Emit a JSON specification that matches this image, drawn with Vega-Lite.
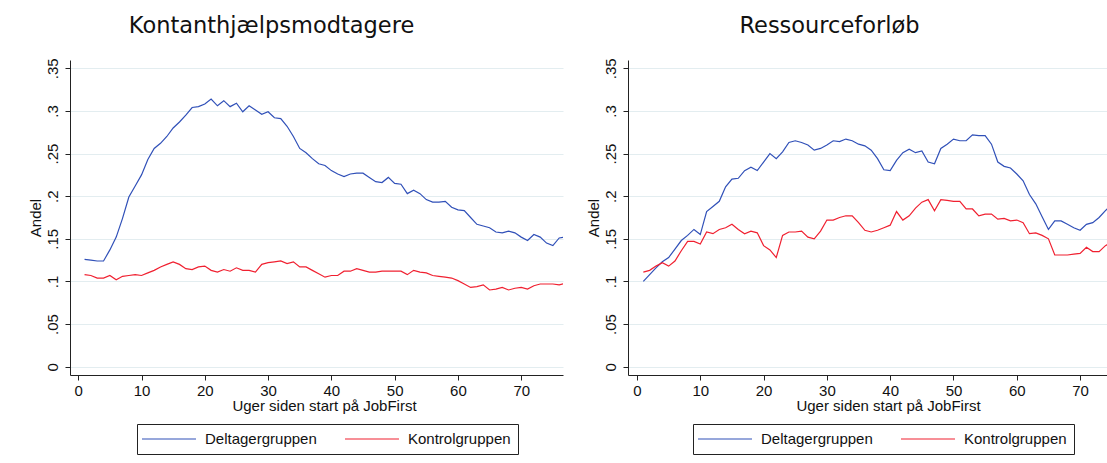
{
  "$schema": "https://vega.github.io/schema/vega-lite/v6.json",
  "background": "white",
  "padding": {"left": 28, "top": 15, "right": 0, "bottom": 11},
  "spacing": 23,
  "resolve": {"scale": {"color": "independent"}, "legend": {"color": "independent"}},
  "config": {
    "view": {"stroke": null},
    "font": "Liberation Sans",
    "axis": {
      "labelFont": "Liberation Sans", "labelFontSize": 15, "labelColor": "#111",
      "titleFont": "Liberation Sans", "titleFontSize": 15, "titleFontWeight": "normal", "titleColor": "#111",
      "domainColor": "#222", "tickColor": "#222", "tickSize": 5,
      "gridColor": "#e3edf0", "gridWidth": 1
    },
    "title": {"font": "DejaVu Sans", "fontSize": 22.5, "fontWeight": "normal", "color": "#111", "anchor": "middle", "baseline": "bottom", "offset": 20},
    "legend": {
      "labelFont": "Liberation Sans", "labelFontSize": 15, "labelColor": "#111",
      "symbolType": "M-3.857,0H3.857", "symbolSize": 196, "symbolStrokeWidth": 1.2,
      "symbolOffset": 17, "labelOffset": 28, "columnPadding": 25, "padding": 7,
      "strokeColor": "#222", "fillColor": "white"
    }
  },
  "datasets": {
    "kont": [
      {"week":1,"Deltagergruppen":0.126,"Kontrolgruppen":0.108},
      {"week":2,"Deltagergruppen":0.125,"Kontrolgruppen":0.107},
      {"week":3,"Deltagergruppen":0.124,"Kontrolgruppen":0.104},
      {"week":4,"Deltagergruppen":0.124,"Kontrolgruppen":0.104},
      {"week":5,"Deltagergruppen":0.137,"Kontrolgruppen":0.107},
      {"week":6,"Deltagergruppen":0.152,"Kontrolgruppen":0.102},
      {"week":7,"Deltagergruppen":0.174,"Kontrolgruppen":0.106},
      {"week":8,"Deltagergruppen":0.199,"Kontrolgruppen":0.107},
      {"week":9,"Deltagergruppen":0.212,"Kontrolgruppen":0.108},
      {"week":10,"Deltagergruppen":0.225,"Kontrolgruppen":0.107},
      {"week":11,"Deltagergruppen":0.243,"Kontrolgruppen":0.110},
      {"week":12,"Deltagergruppen":0.256,"Kontrolgruppen":0.113},
      {"week":13,"Deltagergruppen":0.262,"Kontrolgruppen":0.117},
      {"week":14,"Deltagergruppen":0.270,"Kontrolgruppen":0.120},
      {"week":15,"Deltagergruppen":0.280,"Kontrolgruppen":0.123},
      {"week":16,"Deltagergruppen":0.287,"Kontrolgruppen":0.120},
      {"week":17,"Deltagergruppen":0.295,"Kontrolgruppen":0.115},
      {"week":18,"Deltagergruppen":0.304,"Kontrolgruppen":0.114},
      {"week":19,"Deltagergruppen":0.305,"Kontrolgruppen":0.117},
      {"week":20,"Deltagergruppen":0.308,"Kontrolgruppen":0.118},
      {"week":21,"Deltagergruppen":0.314,"Kontrolgruppen":0.113},
      {"week":22,"Deltagergruppen":0.306,"Kontrolgruppen":0.111},
      {"week":23,"Deltagergruppen":0.312,"Kontrolgruppen":0.114},
      {"week":24,"Deltagergruppen":0.305,"Kontrolgruppen":0.112},
      {"week":25,"Deltagergruppen":0.309,"Kontrolgruppen":0.116},
      {"week":26,"Deltagergruppen":0.299,"Kontrolgruppen":0.113},
      {"week":27,"Deltagergruppen":0.306,"Kontrolgruppen":0.113},
      {"week":28,"Deltagergruppen":0.301,"Kontrolgruppen":0.111},
      {"week":29,"Deltagergruppen":0.296,"Kontrolgruppen":0.120},
      {"week":30,"Deltagergruppen":0.299,"Kontrolgruppen":0.122},
      {"week":31,"Deltagergruppen":0.292,"Kontrolgruppen":0.123},
      {"week":32,"Deltagergruppen":0.291,"Kontrolgruppen":0.124},
      {"week":33,"Deltagergruppen":0.282,"Kontrolgruppen":0.121},
      {"week":34,"Deltagergruppen":0.270,"Kontrolgruppen":0.123},
      {"week":35,"Deltagergruppen":0.256,"Kontrolgruppen":0.117},
      {"week":36,"Deltagergruppen":0.251,"Kontrolgruppen":0.117},
      {"week":37,"Deltagergruppen":0.244,"Kontrolgruppen":0.113},
      {"week":38,"Deltagergruppen":0.238,"Kontrolgruppen":0.109},
      {"week":39,"Deltagergruppen":0.236,"Kontrolgruppen":0.105},
      {"week":40,"Deltagergruppen":0.230,"Kontrolgruppen":0.107},
      {"week":41,"Deltagergruppen":0.226,"Kontrolgruppen":0.107},
      {"week":42,"Deltagergruppen":0.223,"Kontrolgruppen":0.112},
      {"week":43,"Deltagergruppen":0.226,"Kontrolgruppen":0.112},
      {"week":44,"Deltagergruppen":0.227,"Kontrolgruppen":0.115},
      {"week":45,"Deltagergruppen":0.227,"Kontrolgruppen":0.113},
      {"week":46,"Deltagergruppen":0.222,"Kontrolgruppen":0.111},
      {"week":47,"Deltagergruppen":0.217,"Kontrolgruppen":0.111},
      {"week":48,"Deltagergruppen":0.216,"Kontrolgruppen":0.112},
      {"week":49,"Deltagergruppen":0.222,"Kontrolgruppen":0.112},
      {"week":50,"Deltagergruppen":0.215,"Kontrolgruppen":0.112},
      {"week":51,"Deltagergruppen":0.214,"Kontrolgruppen":0.112},
      {"week":52,"Deltagergruppen":0.203,"Kontrolgruppen":0.108},
      {"week":53,"Deltagergruppen":0.207,"Kontrolgruppen":0.113},
      {"week":54,"Deltagergruppen":0.203,"Kontrolgruppen":0.111},
      {"week":55,"Deltagergruppen":0.196,"Kontrolgruppen":0.110},
      {"week":56,"Deltagergruppen":0.193,"Kontrolgruppen":0.107},
      {"week":57,"Deltagergruppen":0.193,"Kontrolgruppen":0.106},
      {"week":58,"Deltagergruppen":0.194,"Kontrolgruppen":0.105},
      {"week":59,"Deltagergruppen":0.187,"Kontrolgruppen":0.104},
      {"week":60,"Deltagergruppen":0.184,"Kontrolgruppen":0.101},
      {"week":61,"Deltagergruppen":0.183,"Kontrolgruppen":0.097},
      {"week":62,"Deltagergruppen":0.175,"Kontrolgruppen":0.093},
      {"week":63,"Deltagergruppen":0.167,"Kontrolgruppen":0.094},
      {"week":64,"Deltagergruppen":0.165,"Kontrolgruppen":0.096},
      {"week":65,"Deltagergruppen":0.163,"Kontrolgruppen":0.090},
      {"week":66,"Deltagergruppen":0.158,"Kontrolgruppen":0.091},
      {"week":67,"Deltagergruppen":0.157,"Kontrolgruppen":0.093},
      {"week":68,"Deltagergruppen":0.159,"Kontrolgruppen":0.090},
      {"week":69,"Deltagergruppen":0.157,"Kontrolgruppen":0.092},
      {"week":70,"Deltagergruppen":0.152,"Kontrolgruppen":0.093},
      {"week":71,"Deltagergruppen":0.148,"Kontrolgruppen":0.091},
      {"week":72,"Deltagergruppen":0.155,"Kontrolgruppen":0.095},
      {"week":73,"Deltagergruppen":0.152,"Kontrolgruppen":0.097},
      {"week":74,"Deltagergruppen":0.145,"Kontrolgruppen":0.097},
      {"week":75,"Deltagergruppen":0.142,"Kontrolgruppen":0.097},
      {"week":76,"Deltagergruppen":0.151,"Kontrolgruppen":0.096},
      {"week":77,"Deltagergruppen":0.152,"Kontrolgruppen":0.098}
    ],
    "ress": [
      {"week":1,"Deltagergruppen":0.100,"Kontrolgruppen":0.111},
      {"week":2,"Deltagergruppen":0.108,"Kontrolgruppen":0.113},
      {"week":3,"Deltagergruppen":0.116,"Kontrolgruppen":0.118},
      {"week":4,"Deltagergruppen":0.123,"Kontrolgruppen":0.122},
      {"week":5,"Deltagergruppen":0.128,"Kontrolgruppen":0.118},
      {"week":6,"Deltagergruppen":0.138,"Kontrolgruppen":0.124},
      {"week":7,"Deltagergruppen":0.148,"Kontrolgruppen":0.136},
      {"week":8,"Deltagergruppen":0.154,"Kontrolgruppen":0.147},
      {"week":9,"Deltagergruppen":0.161,"Kontrolgruppen":0.147},
      {"week":10,"Deltagergruppen":0.155,"Kontrolgruppen":0.144},
      {"week":11,"Deltagergruppen":0.182,"Kontrolgruppen":0.158},
      {"week":12,"Deltagergruppen":0.188,"Kontrolgruppen":0.156},
      {"week":13,"Deltagergruppen":0.194,"Kontrolgruppen":0.161},
      {"week":14,"Deltagergruppen":0.211,"Kontrolgruppen":0.163},
      {"week":15,"Deltagergruppen":0.220,"Kontrolgruppen":0.167},
      {"week":16,"Deltagergruppen":0.221,"Kontrolgruppen":0.161},
      {"week":17,"Deltagergruppen":0.230,"Kontrolgruppen":0.156},
      {"week":18,"Deltagergruppen":0.234,"Kontrolgruppen":0.159},
      {"week":19,"Deltagergruppen":0.230,"Kontrolgruppen":0.157},
      {"week":20,"Deltagergruppen":0.240,"Kontrolgruppen":0.142},
      {"week":21,"Deltagergruppen":0.250,"Kontrolgruppen":0.137},
      {"week":22,"Deltagergruppen":0.244,"Kontrolgruppen":0.128},
      {"week":23,"Deltagergruppen":0.252,"Kontrolgruppen":0.154},
      {"week":24,"Deltagergruppen":0.263,"Kontrolgruppen":0.158},
      {"week":25,"Deltagergruppen":0.265,"Kontrolgruppen":0.158},
      {"week":26,"Deltagergruppen":0.263,"Kontrolgruppen":0.159},
      {"week":27,"Deltagergruppen":0.260,"Kontrolgruppen":0.152},
      {"week":28,"Deltagergruppen":0.254,"Kontrolgruppen":0.150},
      {"week":29,"Deltagergruppen":0.256,"Kontrolgruppen":0.159},
      {"week":30,"Deltagergruppen":0.260,"Kontrolgruppen":0.172},
      {"week":31,"Deltagergruppen":0.265,"Kontrolgruppen":0.172},
      {"week":32,"Deltagergruppen":0.264,"Kontrolgruppen":0.175},
      {"week":33,"Deltagergruppen":0.267,"Kontrolgruppen":0.177},
      {"week":34,"Deltagergruppen":0.265,"Kontrolgruppen":0.177},
      {"week":35,"Deltagergruppen":0.261,"Kontrolgruppen":0.169},
      {"week":36,"Deltagergruppen":0.259,"Kontrolgruppen":0.160},
      {"week":37,"Deltagergruppen":0.254,"Kontrolgruppen":0.158},
      {"week":38,"Deltagergruppen":0.244,"Kontrolgruppen":0.160},
      {"week":39,"Deltagergruppen":0.231,"Kontrolgruppen":0.163},
      {"week":40,"Deltagergruppen":0.230,"Kontrolgruppen":0.166},
      {"week":41,"Deltagergruppen":0.242,"Kontrolgruppen":0.182},
      {"week":42,"Deltagergruppen":0.251,"Kontrolgruppen":0.172},
      {"week":43,"Deltagergruppen":0.255,"Kontrolgruppen":0.177},
      {"week":44,"Deltagergruppen":0.251,"Kontrolgruppen":0.186},
      {"week":45,"Deltagergruppen":0.253,"Kontrolgruppen":0.193},
      {"week":46,"Deltagergruppen":0.240,"Kontrolgruppen":0.196},
      {"week":47,"Deltagergruppen":0.238,"Kontrolgruppen":0.183},
      {"week":48,"Deltagergruppen":0.256,"Kontrolgruppen":0.196},
      {"week":49,"Deltagergruppen":0.261,"Kontrolgruppen":0.195},
      {"week":50,"Deltagergruppen":0.267,"Kontrolgruppen":0.194},
      {"week":51,"Deltagergruppen":0.265,"Kontrolgruppen":0.194},
      {"week":52,"Deltagergruppen":0.265,"Kontrolgruppen":0.185},
      {"week":53,"Deltagergruppen":0.272,"Kontrolgruppen":0.185},
      {"week":54,"Deltagergruppen":0.271,"Kontrolgruppen":0.177},
      {"week":55,"Deltagergruppen":0.271,"Kontrolgruppen":0.179},
      {"week":56,"Deltagergruppen":0.261,"Kontrolgruppen":0.179},
      {"week":57,"Deltagergruppen":0.240,"Kontrolgruppen":0.173},
      {"week":58,"Deltagergruppen":0.235,"Kontrolgruppen":0.174},
      {"week":59,"Deltagergruppen":0.233,"Kontrolgruppen":0.171},
      {"week":60,"Deltagergruppen":0.226,"Kontrolgruppen":0.172},
      {"week":61,"Deltagergruppen":0.218,"Kontrolgruppen":0.169},
      {"week":62,"Deltagergruppen":0.202,"Kontrolgruppen":0.156},
      {"week":63,"Deltagergruppen":0.191,"Kontrolgruppen":0.157},
      {"week":64,"Deltagergruppen":0.176,"Kontrolgruppen":0.154},
      {"week":65,"Deltagergruppen":0.161,"Kontrolgruppen":0.150},
      {"week":66,"Deltagergruppen":0.171,"Kontrolgruppen":0.131},
      {"week":67,"Deltagergruppen":0.171,"Kontrolgruppen":0.131},
      {"week":68,"Deltagergruppen":0.167,"Kontrolgruppen":0.131},
      {"week":69,"Deltagergruppen":0.163,"Kontrolgruppen":0.132},
      {"week":70,"Deltagergruppen":0.160,"Kontrolgruppen":0.133},
      {"week":71,"Deltagergruppen":0.167,"Kontrolgruppen":0.140},
      {"week":72,"Deltagergruppen":0.169,"Kontrolgruppen":0.135},
      {"week":73,"Deltagergruppen":0.175,"Kontrolgruppen":0.135},
      {"week":74,"Deltagergruppen":0.183,"Kontrolgruppen":0.142},
      {"week":75,"Deltagergruppen":0.190,"Kontrolgruppen":0.146}
    ]
  },
  "hconcat": [
    {
      "width": 493, "height": 315,
      "title": {"text": "Kontanthjælpsmodtagere", "dx": -45},
      "data": {"name": "kont"},
      "transform": [{"fold": ["Deltagergruppen", "Kontrolgruppen"], "as": ["group", "andel"]}],
      "mark": {"type": "line", "strokeWidth": 1.2, "clip": true},
      "encoding": {
        "x": {"field": "week", "type": "quantitative",
          "scale": {"domain": [-1.3, 76.6], "nice": false, "zero": false},
          "axis": {"values": [0,10,20,30,40,50,60,70], "title": "Uger siden start på JobFirst",
            "titleX": 254, "titleY": 23, "titleBaseline": "top", "titleAlign": "center",
            "labelPadding": 3, "grid": false, "labelFlush": false, "labelOverlap": false}},
        "y": {"field": "andel", "type": "quantitative",
          "scale": {"domain": [-0.0097, 0.3597], "nice": false, "zero": false},
          "axis": {"values": [0,0.05,0.1,0.15,0.2,0.25,0.3,0.35], "title": "Andel",
            "labelAngle": -90, "labelAlign": "center", "labelBaseline": "middle", "labelPadding": 13,
            "labelExpr": "datum.value == 0 ? '0' : slice(format(datum.value, '.2~f'), 1)",
            "labelFlush": false, "labelOverlap": false,
            "titleX": -35, "titleY": 157.5, "titleAngle": -90, "titleBaseline": "middle", "titleAlign": "center",
            "grid": true}},
        "color": {"field": "group", "type": "nominal",
          "scale": {"domain": ["Deltagergruppen", "Kontrolgruppen"], "range": ["#3050b8", "#f02030"]},
          "legend": {"title": null, "orient": "none", "legendX": 67, "legendY": 364, "direction": "horizontal"}}
      }
    },
    {
      "width": 479, "height": 315,
      "title": {"text": "Ressourceforløb", "dx": -38},
      "data": {"name": "ress"},
      "transform": [{"fold": ["Deltagergruppen", "Kontrolgruppen"], "as": ["group", "andel"]}],
      "mark": {"type": "line", "strokeWidth": 1.2, "clip": true},
      "encoding": {
        "x": {"field": "week", "type": "quantitative",
          "scale": {"domain": [-1.42, 74.25], "nice": false, "zero": false},
          "axis": {"values": [0,10,20,30,40,50,60,70], "title": "Uger siden start på JobFirst",
            "titleX": 260, "titleY": 23, "titleBaseline": "top", "titleAlign": "center",
            "labelPadding": 3, "grid": false, "labelFlush": false, "labelOverlap": false}},
        "y": {"field": "andel", "type": "quantitative",
          "scale": {"domain": [-0.0097, 0.3597], "nice": false, "zero": false},
          "axis": {"values": [0,0.05,0.1,0.15,0.2,0.25,0.3,0.35], "title": "Andel",
            "labelAngle": -90, "labelAlign": "center", "labelBaseline": "middle", "labelPadding": 13,
            "labelExpr": "datum.value == 0 ? '0' : slice(format(datum.value, '.2~f'), 1)",
            "labelFlush": false, "labelOverlap": false,
            "titleX": -35, "titleY": 157.5, "titleAngle": -90, "titleBaseline": "middle", "titleAlign": "center",
            "grid": true}},
        "color": {"field": "group", "type": "nominal",
          "scale": {"domain": ["Deltagergruppen", "Kontrolgruppen"], "range": ["#3050b8", "#f02030"]},
          "legend": {"title": null, "orient": "none", "legendX": 65, "legendY": 364, "direction": "horizontal"}}
      }
    }
  ]
}
